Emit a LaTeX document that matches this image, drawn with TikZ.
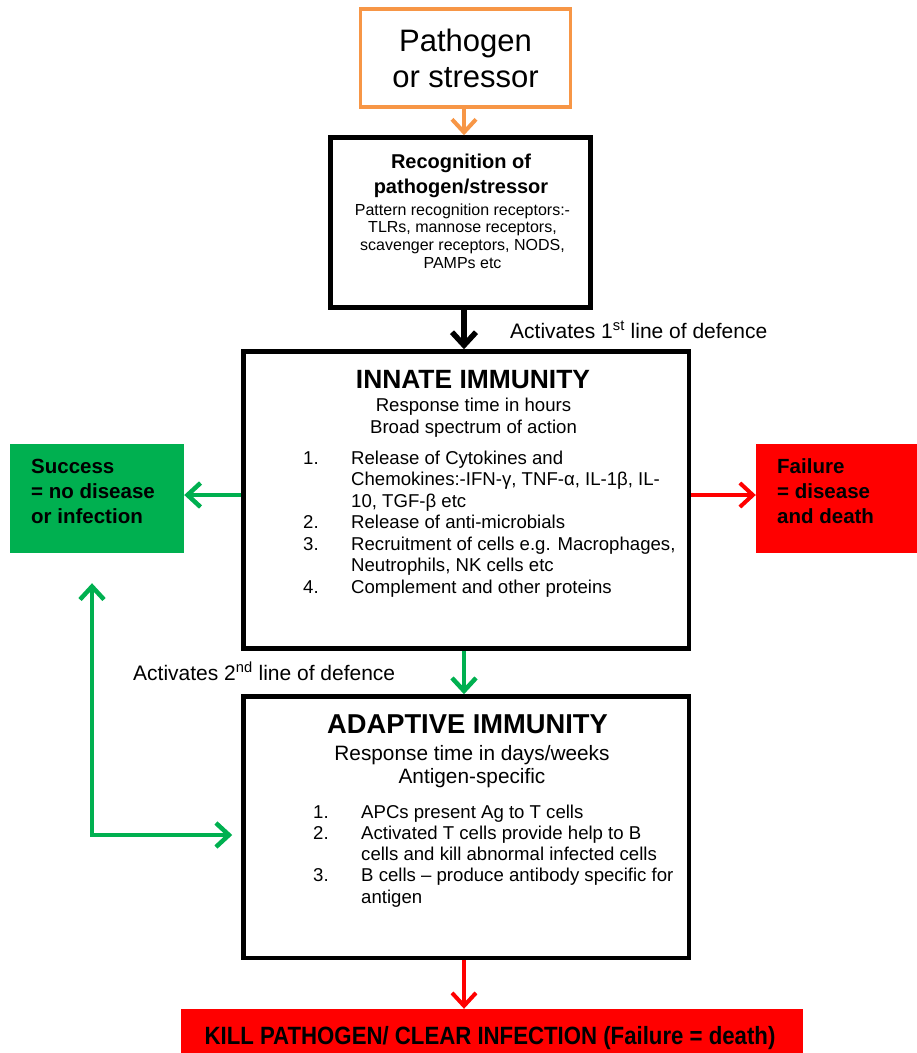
\documentclass[tikz,border=0pt]{standalone}
\usepackage{fontspec}
\setmainfont{Liberation Sans}
\usepackage{graphicx}
\usetikzlibrary{arrows.meta}

\definecolor{pathorange}{HTML}{F79646}
\definecolor{okgreen}{HTML}{00B050}
\definecolor{badred}{HTML}{FF0000}

\newcommand{\fsz}[2]{\fontsize{#1}{#2}\selectfont}
\newcommand{\stacklines}[2][c]{\begin{tabular}[t]{@{}#1@{}}#2\end{tabular}}
\newcommand{\numlist}[1]{\begin{tabular}[t]{@{}p{48pt}@{}l@{}}#1\end{tabular}}

\begin{document}
\begin{tikzpicture}[x=1pt, y=-1pt,
    stage/.style={draw, line width=4.5pt, inner sep=0pt},
    outcome/.style={inner sep=0pt},
    txt/.style={inner sep=0pt, anchor=base},
    flow/.style={-{Straight Barb[length=13pt, width=24pt]}, line width=4.5pt}]
    \useasboundingbox (0, 0) rectangle (917, 1053);

    % boxes
    \node [draw=pathorange, line width=3.5pt, minimum width=210, minimum height=98,
           align=center, font=\fsz{31}{36}] (pathogen) at (465.5, 58) {Pathogen\\or stressor};
    \node [stage, minimum width=260, minimum height=170] (recog) at (460.5, 222.5) {};
    \node [stage, minimum width=445.5, minimum height=297] (innate) at (466.25, 500) {};
    \node [stage, minimum width=445.5, minimum height=261.5] (adaptive) at (466.25, 827.25) {};
    \node [outcome, fill=okgreen, minimum width=174, minimum height=109] (success) at (97, 498.5) {};
    \node [outcome, fill=badred, minimum width=166, minimum height=109] (failure) at (839, 498.5) {};
    \node [outcome, fill=badred, minimum width=622, minimum height=60] (kill) at (492, 1039) {};

    % texts
    \node [txt, font=\bfseries\fsz{20}{25}] (recogtitle) at (461, 168)
        {\stacklines{Recognition of\\pathogen/stressor}};
    \node [txt, font=\fsz{16}{17.8}] (recogtext) at (462.5, 215)
        {\stacklines{Pattern recognition receptors:-\\TLRs, mannose receptors,\\scavenger receptors, NODS,\\PAMPs etc}};

    \node [txt, font=\bfseries\fsz{26.4}{30}] (innatetitle) at (473, 388) {INNATE IMMUNITY};
    \node [txt, font=\fsz{18.6}{22}] (innatesub) at (473.5, 411)
        {\stacklines{Response time in hours\\Broad spectrum of action}};
    \node [txt, anchor=base west, font=\fsz{18.6}{21.5}] (innatelist) at (303, 464) {\numlist{
        1. & Release of Cytokines and\\
           & Chemokines:-IFN-γ, TNF-α, IL-1β, IL-\\
           & 10, TGF-β etc\\
        2. & Release of anti-microbials\\
        3. & Recruitment of cells e.g. Macrophages,\\
           & Neutrophils, NK cells etc\\
        4. & Complement and other proteins}};

    \node [txt, font=\bfseries\fsz{27.3}{31}] (adaptivetitle) at (467.5, 733) {ADAPTIVE IMMUNITY};
    \node [txt, font=\fsz{20.8}{23}] (adaptivesub) at (472, 760)
        {\stacklines{Response time in days/weeks\\Antigen-specific}};
    \node [txt, anchor=base west, font=\fsz{18.6}{21.3}] (adaptivelist) at (313, 818) {\numlist{
        1. & APCs present Ag to T cells\\
        2. & Activated T cells provide help to B\\
           & cells and kill abnormal infected cells\\
        3. & B cells – produce antibody specific for\\
           & antigen}};

    \node [txt, anchor=base west, font=\bfseries\fsz{20.5}{25}] (successtext) at (31, 473)
        {\stacklines[l]{Success\\= no disease\\or infection}};
    \node [txt, anchor=base west, font=\bfseries\fsz{20.5}{25}] (failuretext) at (777, 473)
        {\stacklines[l]{Failure\\= disease\\and death}};
    \node [txt, font=\bfseries\fsz{25}{30}] (killtext) at (490, 1044)
        {\scalebox{0.888}[1]{KILL PATHOGEN/ CLEAR INFECTION (Failure = death)}};

    \node [txt, anchor=base west, font=\fsz{21}{25}] (act1) at (510, 338)
        {Activates 1\textsuperscript{st} line of defence};
    \node [txt, anchor=base west, font=\fsz{21}{25}] (act2) at (133, 680)
        {Activates 2\textsuperscript{nd} line of defence};

    % connectors
    \coordinate (spine) at (464, 0);
    \coordinate (loopcorner) at (92, 835);
    \draw [flow, pathorange, line width=4pt] (pathogen.south -| spine) -- (spine |- recog.north);
    \draw [flow, line width=5.5pt] (spine |- recog.south) -- (spine |- innate.north);
    \draw [flow, okgreen] ([yshift=5pt]innate.west) -- ([yshift=5pt]innate.west -| success.east);
    \draw [flow, badred, line width=4pt] ([yshift=5pt]innate.east) -- ([yshift=5pt]innate.east -| failure.west);
    \draw [flow, okgreen] (spine |- innate.south) -- (spine |- adaptive.north);
    \draw [flow, badred, line width=4pt] (spine |- adaptive.south) -- (spine |- kill.north);
    \draw [flow, okgreen, {Straight Barb[length=13pt, width=24pt]}-{Straight Barb[length=13pt, width=24pt]}]
        ([yshift=-30pt]success.south -| loopcorner) -- (loopcorner) -- ([xshift=-9pt]loopcorner -| adaptive.west);
\end{tikzpicture}
\end{document}
